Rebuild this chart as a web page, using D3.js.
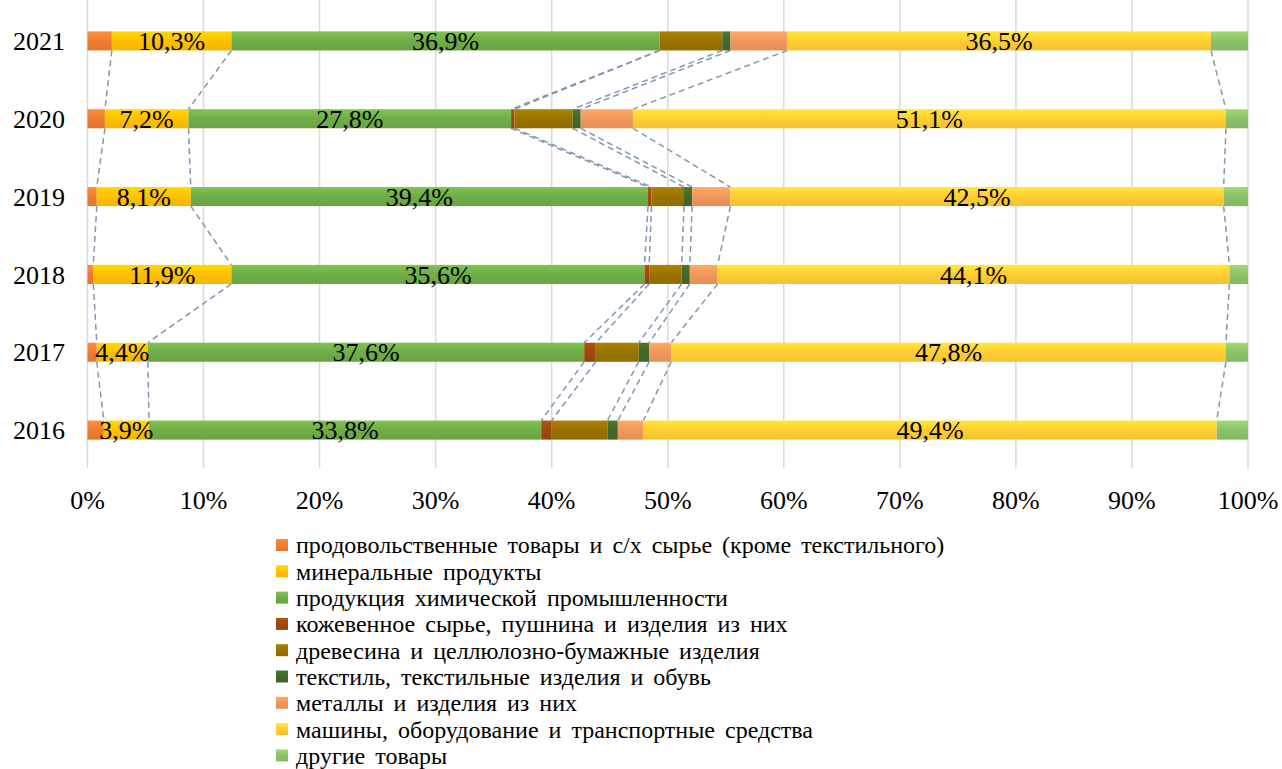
<!DOCTYPE html>
<html>
<head>
<meta charset="utf-8">
<script src="https://cdn.jsdelivr.net/npm/d3@7"></script>
<style>
  body { margin: 0; background: #fff; }
</style>
</head>
<body>
<script>
const years = ["2021", "2020", "2019", "2018", "2017", "2016"];

const seriesNames = [
  "продовольственные товары и с/х сырье (кроме текстильного)",
  "минеральные продукты",
  "продукция химической промышленности",
  "кожевенное сырье, пушнина и изделия из них",
  "древесина и целлюлозно-бумажные изделия",
  "текстиль, текстильные изделия и обувь",
  "металлы и изделия из них",
  "машины, оборудование и транспортные средства",
  "другие товары"
];

// shares by year, same order as years
const food      = [2.1, 1.5, 0.8, 0.5, 0.8, 1.4];
const minerals  = [10.3, 7.2, 8.1, 11.9, 4.4, 3.9];
const chemicals = [36.9, 27.8, 39.4, 35.6, 37.6, 33.8];
const leather   = [0.0, 0.3, 0.3, 0.4, 1.0, 0.9];
const wood      = [5.4, 5.0, 2.8, 2.8, 3.7, 4.8];
const textile   = [0.7, 0.7, 0.7, 0.7, 0.9, 0.9];
const metals    = [4.9, 4.5, 3.3, 2.4, 1.9, 2.2];
const machines  = [36.5, 51.1, 42.5, 44.1, 47.8, 49.4];
const other     = [3.2, 1.9, 2.1, 1.6, 1.9, 2.7];

const xTicks = [0, 0.1, 0.2, 0.3, 0.4, 0.5, 0.6, 0.7, 0.8, 0.9, 1];

const colors = ["#ED7D31", "#FFC000", "#70AD47", "#9E480E", "#997300",
                "#43682B", "#F1975A", "#FFCD33", "#8CC168"];
const labelled = [1, 2, 7]; // series that carry value labels

const allSeries = [food, minerals, chemicals, leather, wood, textile, metals, machines, other];
const keys = d3.range(seriesNames.length).map(String);
const rows = years.map((y, i) => {
  const r = {year: y};
  allSeries.forEach((s, k) => r[k] = s[i]);
  return r;
});

const width = 1282, height = 769;
const FONT = "Liberation Serif";
const svg = d3.select("body").append("svg")
  .attr("width", width).attr("height", height);

const x = d3.scaleLinear().domain([0, 1]).range([87.5, 1248]);
const y = d3.scaleBand().domain(years).range([2, 469]).paddingInner(0.755).paddingOuter(0.3775);

const stack = d3.stack().keys(keys).offset(d3.stackOffsetExpand);
const layers = stack(rows);

// gradients like the office fill
const defs = svg.append("defs");
colors.forEach((c, i) => {
  const g = defs.append("linearGradient").attr("id", "grad" + i)
    .attr("x1", 0).attr("y1", 0).attr("x2", 0).attr("y2", 1);
  g.append("stop").attr("offset", "0%").attr("stop-color", d3.color(c).brighter(0.35));
  g.append("stop").attr("offset", "50%").attr("stop-color", c);
  g.append("stop").attr("offset", "100%").attr("stop-color", d3.color(c).darker(0.15));
});

// gridlines
svg.append("g").selectAll("line")
  .data(xTicks).join("line")
  .attr("x1", d => x(d)).attr("x2", d => x(d))
  .attr("y1", 0).attr("y2", 468)
  .attr("stroke", "#d9d9d9").attr("stroke-width", 1.5);

// series lines between adjacent bars
const seriesLines = [];
for (let i = 0; i < years.length - 1; i++) {
  layers.slice(0, -1).forEach(L => {
    seriesLines.push({x1: L[i][1], y1: y(years[i]) + y.bandwidth(), x2: L[i + 1][1], y2: y(years[i + 1])});
  });
}
svg.append("g").selectAll("line")
  .data(seriesLines).join("line")
  .attr("x1", d => x(d.x1)).attr("y1", d => d.y1)
  .attr("x2", d => x(d.x2)).attr("y2", d => d.y2)
  .attr("stroke", "#8497B0").attr("stroke-width", 1.5)
  .attr("stroke-dasharray", "6,4");

// bars
const gl = svg.append("g").selectAll("g")
  .data(layers).join("g")
  .attr("fill", (d, i) => `url(#grad${i})`);
gl.selectAll("rect")
  .data(d => d).join("rect")
  .attr("x", d => x(d[0]))
  .attr("width", d => Math.max(0, x(d[1]) - x(d[0])))
  .attr("y", d => y(d.data.year))
  .attr("height", y.bandwidth());

// value labels
labelled.forEach(k => {
  svg.append("g").selectAll("text")
    .data(layers[k]).join("text")
    .attr("x", d => (x(d[0]) + x(d[1])) / 2)
    .attr("y", d => y(d.data.year) + y.bandwidth() / 2)
    .attr("dy", "0.35em")
    .attr("text-anchor", "middle")
    .attr("font-size", 26)
    .attr("fill", "#000")
    .text(d => d3.format(".1f")(d.data[k]).replace(".", ",") + "%");
});

// year labels
svg.append("g").selectAll("text")
  .data(years).join("text")
  .attr("x", 65).attr("y", d => y(d) + y.bandwidth() / 2)
  .attr("dy", "0.35em").attr("text-anchor", "end")
  .attr("font-size", 26).attr("fill", "#000")
  .text(d => d);

// x tick labels
svg.append("g").selectAll("text")
  .data(xTicks).join("text")
  .attr("x", d => x(d)).attr("y", 500)
  .attr("dy", "0.35em").attr("text-anchor", "middle")
  .attr("font-size", 26).attr("fill", "#000")
  .text(d => d3.format(".0%")(d));

// legend
const lg = svg.append("g").selectAll("g")
  .data(seriesNames).join("g")
  .attr("transform", (d, i) => `translate(276,${545 + i * 26.3})`);
lg.append("rect")
  .attr("x", 0).attr("y", -6).attr("width", 12).attr("height", 12)
  .attr("fill", (d, i) => `url(#grad${i})`);
lg.append("text")
  .attr("x", 20).attr("dy", "0.35em")
  .attr("font-size", 24).attr("fill", "#000")
  .attr("word-spacing", 4)
  .text(d => d);

svg.selectAll("text").style("font-family", FONT, "important");
</script>
</body>
</html>
